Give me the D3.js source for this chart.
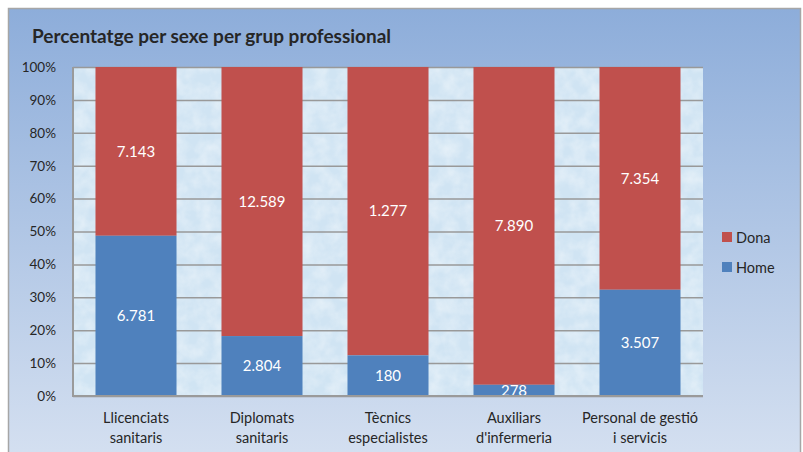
<!DOCTYPE html>
<html>
<head>
<meta charset="utf-8">
<script src="https://cdn.jsdelivr.net/npm/d3@7"></script>
<style>
	body { margin: 0; background: #fff; }
	svg text { font-family: Lato, "Open Sans", sans-serif; }
</style>
</head>
<body>
<svg id="chart" width="803" height="452"></svg>
<script>
// data
var categories = [
	["Llicenciats", "sanitaris"],
	["Diplomats", "sanitaris"],
	["Tècnics", "especialistes"],
	["Auxiliars", "d'infermeria"],
	["Personal de gestió", "i servicis"]
];
var home = [6781, 2804, 180, 278, 3507];
var dona = [7143, 12589, 1277, 7890, 7354];
var yTicks = [0, 0.1, 0.2, 0.3, 0.4, 0.5, 0.6, 0.7, 0.8, 0.9, 1];

var colors = {
	home: "#4f81bd",
	dona: "#c0504d",
	grid: "#999999",
	axis: "#9a9a9a",
	text: "#262626"
};

var plot = { left: 73, right: 703, top: 67, bottom: 396 };

var svg = d3.select("#chart");
var defs = svg.append("defs");

// background gradient of the chart box
var bg = defs.append("linearGradient").attr("id", "bg")
	.attr("x1", 0).attr("y1", 0).attr("x2", 0).attr("y2", 1);
bg.append("stop").attr("offset", "0%").attr("stop-color", "#8dadda");
bg.append("stop").attr("offset", "100%").attr("stop-color", "#d6e1f1");

// mottled "water" texture for the plot area
var f = defs.append("filter").attr("id", "water")
	.attr("x", 0).attr("y", 0).attr("width", 1).attr("height", 1);
f.append("feTurbulence").attr("type", "fractalNoise")
	.attr("baseFrequency", "0.07").attr("numOctaves", 3).attr("seed", 4)
	.attr("result", "noise");
f.append("feColorMatrix").attr("in", "noise").attr("type", "matrix")
	.attr("values", "0 0 0 0 1  0 0 0 0 1  0 0 0 0 1  1.3 0 0 0 -0.4")
	.attr("result", "spots");
f.append("feComposite").attr("in", "spots").attr("in2", "SourceGraphic").attr("operator", "in");

svg.append("rect")
	.attr("x", 8.5).attr("y", 8.5).attr("width", 792).attr("height", 460)
	.attr("fill", "url(#bg)")
	.attr("stroke", "#a6a6a6").attr("stroke-width", 1.5);

svg.append("text")
	.attr("x", 32).attr("y", 43)
	.attr("font-size", 19).attr("font-weight", "bold")
	.attr("fill", colors.text)
	.text("Percentatge per sexe per grup professional");

var g = svg.append("g");

g.append("rect")
	.attr("x", plot.left).attr("y", plot.top)
	.attr("width", plot.right - plot.left).attr("height", plot.bottom - plot.top)
	.attr("fill", "#d0e4f3");
g.append("rect")
	.attr("x", plot.left).attr("y", plot.top)
	.attr("width", plot.right - plot.left).attr("height", plot.bottom - plot.top)
	.attr("fill", "#ffffff").attr("filter", "url(#water)").attr("opacity", 0.55);

var x = d3.scaleBand()
	.domain(d3.range(categories.length))
	.range([plot.left, plot.right])
	.paddingInner(0.357)
	.paddingOuter(0.357 / 2);

var y = d3.scaleLinear().domain([0, 1]).range([plot.bottom, plot.top]);

// gridlines + y labels
var yAxis = d3.axisLeft(y).tickValues(yTicks)
	.tickFormat(d3.format(".0%"))
	.tickSize(-(plot.right - plot.left)).tickPadding(17);
var yg = g.append("g").attr("transform", "translate(" + plot.left + ",0)").call(yAxis);
yg.select(".domain").remove();
yg.selectAll(".tick line").attr("stroke", colors.grid).attr("stroke-width", 1.5);
yg.selectAll(".tick text")
	.attr("font-size", 13.5).attr("fill", colors.text)
	.attr("font-family", "Lato, sans-serif");

var rows = categories.map(function(c, i) {
	var total = home[i] + dona[i];
	return { i: i, home: home[i], dona: dona[i], h: home[i] / total };
});

var bars = g.append("g").selectAll("g").data(rows).enter().append("g");

bars.append("rect")
	.attr("x", function(d) { return x(d.i); })
	.attr("width", x.bandwidth())
	.attr("y", y(1))
	.attr("height", function(d) { return y(d.h) - y(1); })
	.attr("fill", colors.dona);

bars.append("rect")
	.attr("x", function(d) { return x(d.i); })
	.attr("width", x.bandwidth())
	.attr("y", function(d) { return y(d.h); })
	.attr("height", function(d) { return y(0) - y(d.h); })
	.attr("fill", colors.home);

var fmt = function(v) { return d3.format(",")(v).replace(/,/g, "."); };

bars.append("text")
	.attr("x", function(d) { return x(d.i) + x.bandwidth() / 2; })
	.attr("y", function(d) { return y((1 + d.h) / 2); })
	.attr("dy", "0.35em").attr("text-anchor", "middle")
	.attr("font-size", 15).attr("fill", "#fff")
	.text(function(d) { return fmt(d.dona); });

bars.append("text")
	.attr("x", function(d) { return x(d.i) + x.bandwidth() / 2; })
	.attr("y", function(d) { return y(d.h / 2); })
	.attr("dy", "0.35em").attr("text-anchor", "middle")
	.attr("font-size", 15).attr("fill", "#fff")
	.text(function(d) { return fmt(d.home); });

// axis lines
g.append("line")
	.attr("x1", plot.left).attr("x2", plot.left)
	.attr("y1", plot.top).attr("y2", plot.bottom)
	.attr("stroke", colors.axis).attr("stroke-width", 2);
g.append("line")
	.attr("x1", plot.left - 1).attr("x2", plot.right)
	.attr("y1", plot.bottom).attr("y2", plot.bottom)
	.attr("stroke", colors.axis).attr("stroke-width", 2);

// category labels
var cl = g.append("g").selectAll("text").data(categories).enter().append("text")
	.attr("x", function(d, i) { return x(i) + x.bandwidth() / 2; })
	.attr("y", 423)
	.attr("text-anchor", "middle")
	.attr("font-size", 14.5).attr("fill", colors.text);
cl.append("tspan").text(function(d) { return d[0]; });
cl.append("tspan")
	.attr("x", function(d, i) { return x(i) + x.bandwidth() / 2; })
	.attr("dy", 20)
	.text(function(d) { return d[1]; });

// legend
var legend = [["Dona", colors.dona], ["Home", colors.home]];
var lg = svg.append("g").selectAll("g").data(legend).enter().append("g")
	.attr("transform", function(d, i) { return "translate(722," + (232 + i * 30) + ")"; });
lg.append("rect").attr("width", 10).attr("height", 10)
	.attr("fill", function(d) { return d[1]; });
lg.append("text").attr("x", 14).attr("y", 10.5)
	.attr("font-size", 14.5).attr("fill", colors.text)
	.text(function(d) { return d[0]; });
</script>
</body>
</html>
